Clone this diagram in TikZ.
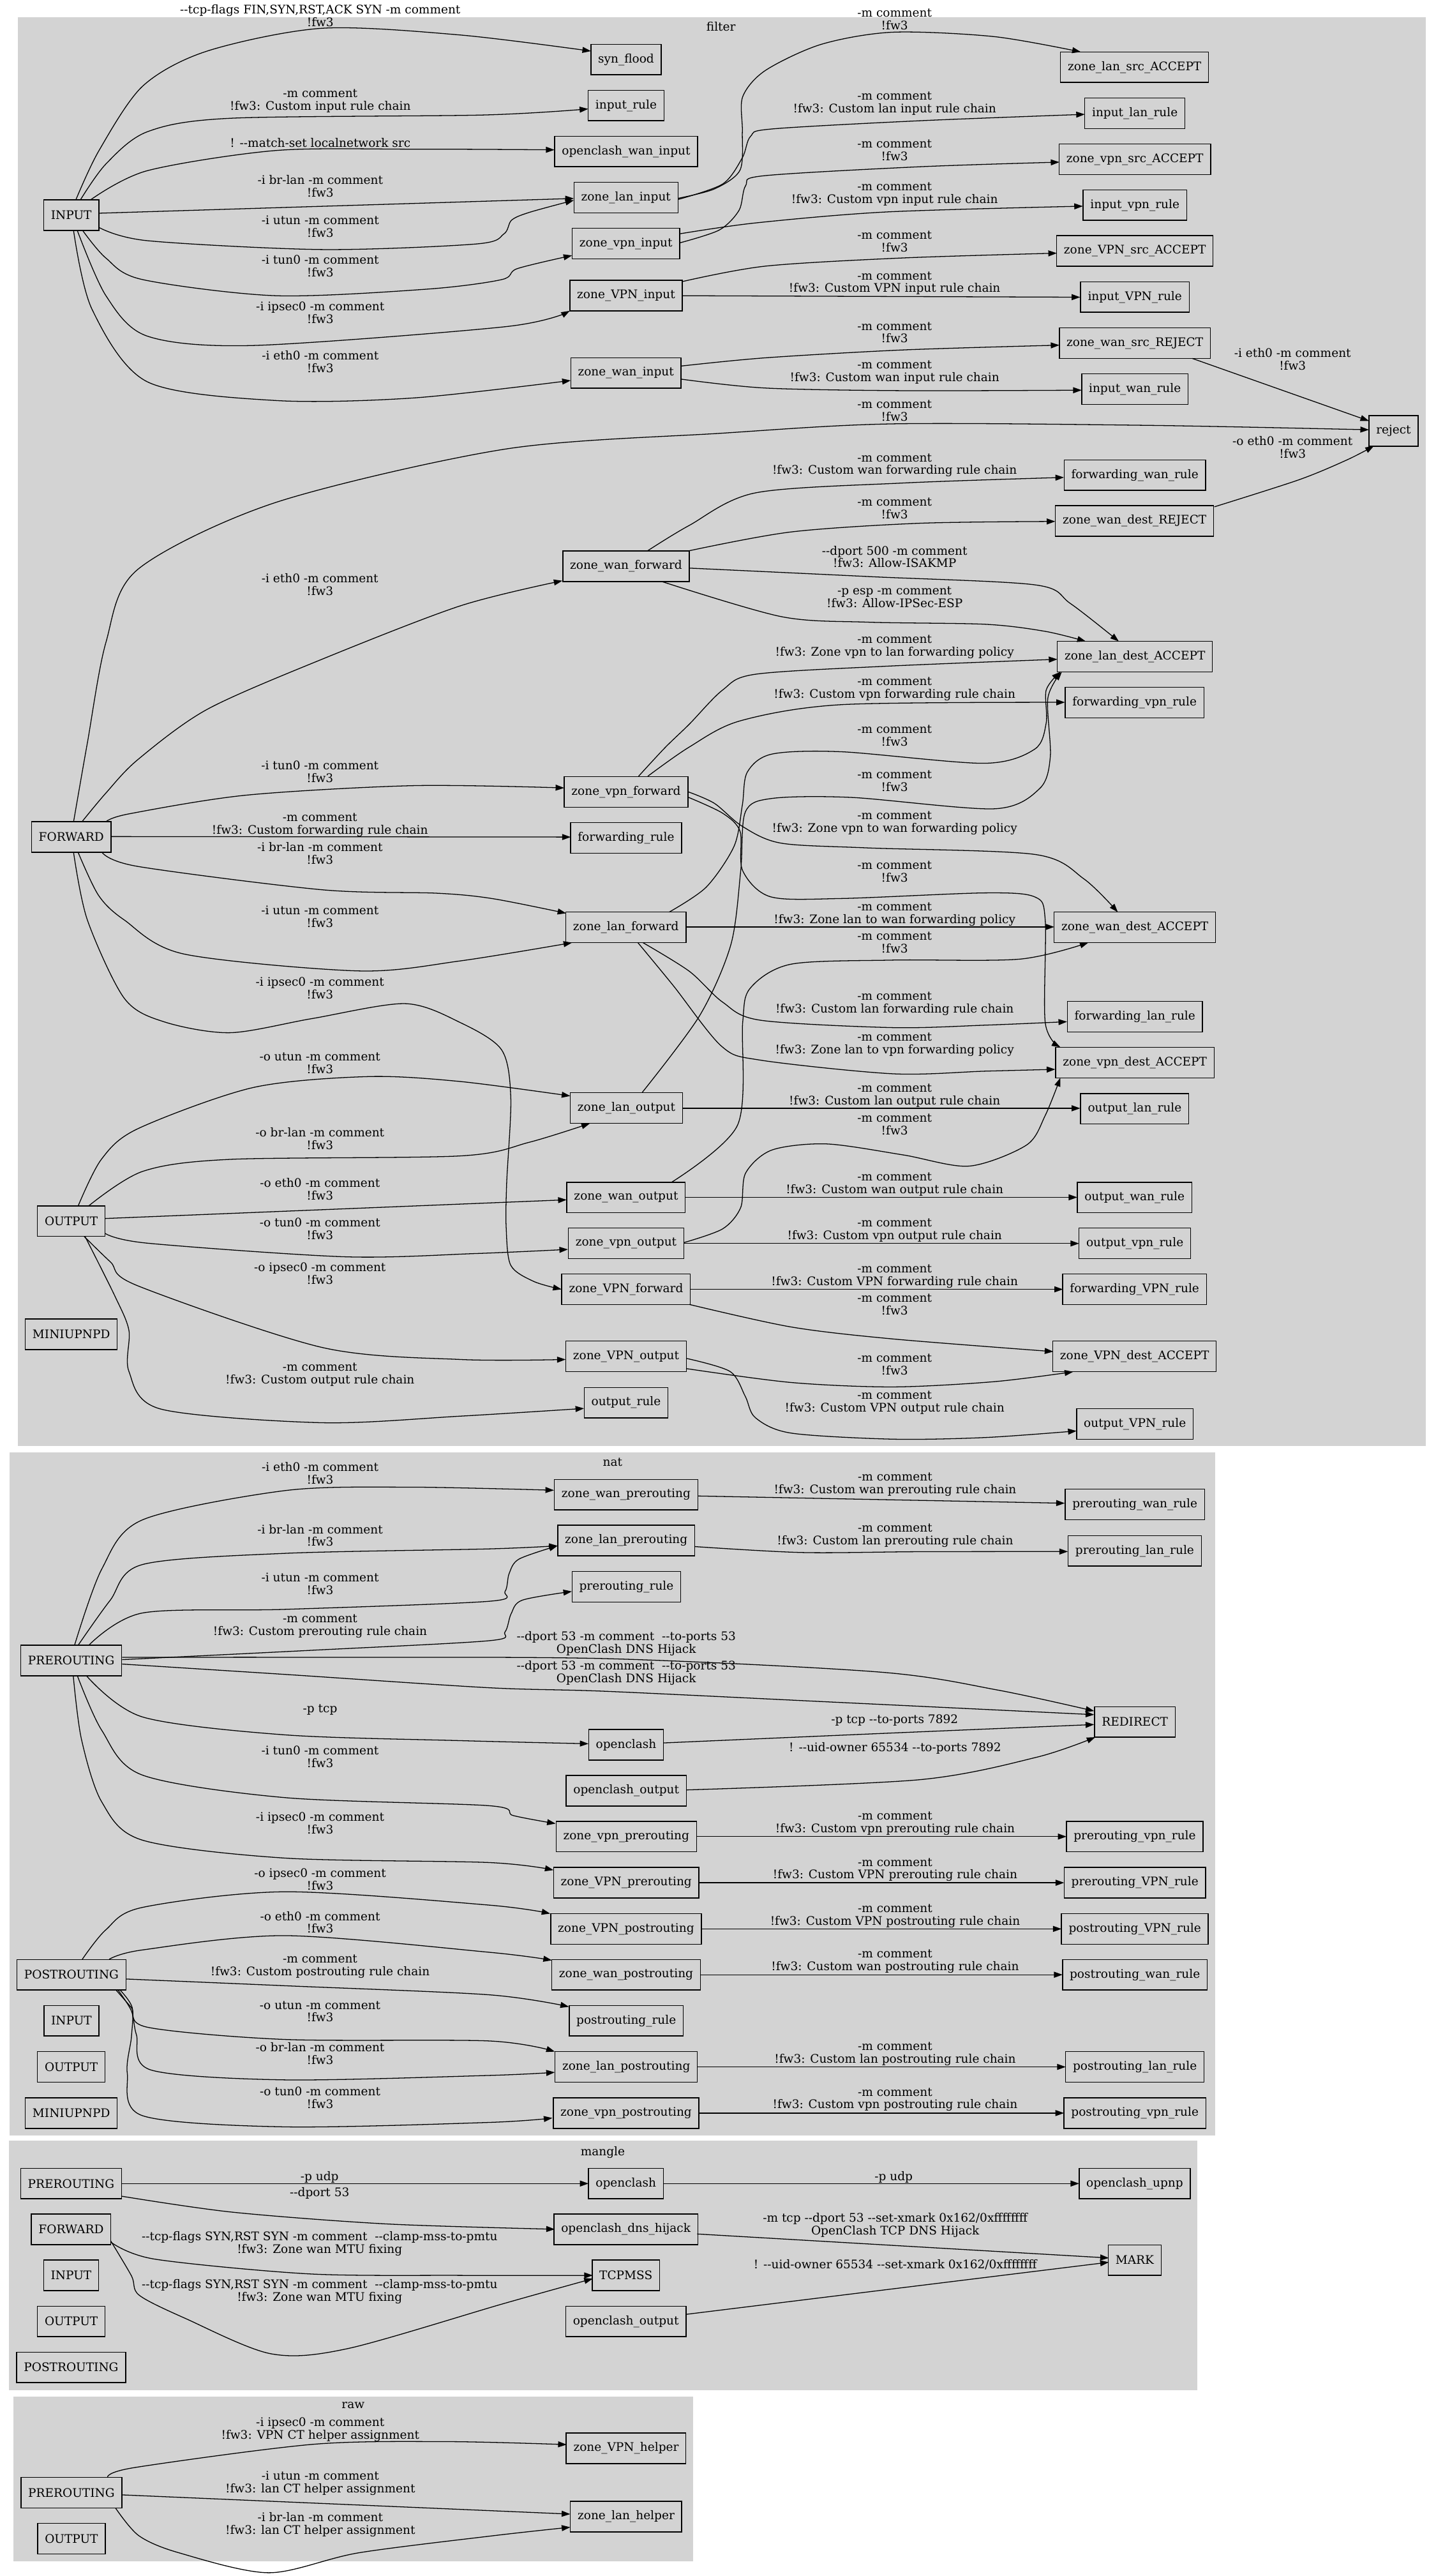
\documentclass[tikz,border=0pt]{standalone}
\usepackage{fontspec}
\newfontfamily\gvfont{DejaVu Serif}
\usetikzlibrary{arrows.meta}
\definecolor{clgray}{HTML}{D3D3D3}
\newcommand\gv{\gvfont\fontsize{7.2}{7.75}\selectfont}
\begin{document}
\begin{tikzpicture}[x=1pt,y=-1pt,
  box/.style={draw=black,line width=0.55pt,rectangle,minimum height=18.6pt,minimum width=27.8pt,inner xsep=4.4pt,inner ysep=0pt,outer sep=0pt,font=\gv},
  lbl/.style={font=\gv,align=center,inner sep=0pt},
  e/.style={draw=black,line width=0.5pt,-{Triangle[length=5.2pt,width=3.6pt]}},
  cl/.style={fill=clgray,draw=none}]
\useasboundingbox (0,0) rectangle (874,1568);
\fill[white] (0,0) rectangle (874,1568);
% clusters
\path[cl] (11,10.6) rectangle (868,880);
\path[cl] (6,884) rectangle (740,1300);
\path[cl] (5.6,1303) rectangle (729,1455);
\path[cl] (8.2,1458.7) rectangle (422,1559);
\node[lbl] (tfilter) at (439,16.3) {filter};
\node[lbl] (tnat) at (373,890) {nat};
\node[lbl] (tmangle) at (367,1310) {mangle};
\node[lbl] (traw) at (215,1464) {raw};
% ---------------- filter nodes
\node[box] (INPUT) at (43.4,131) {INPUT};
\node[box] (syn_flood) at (381.2,36.2) {syn\_flood};
\node[box] (input_rule) at (381.2,64.2) {input\_rule};
\node[box] (openclash_wan_input) at (381.2,92.2) {openclash\_wan\_input};
\node[box] (zone_lan_input) at (381.1,120.2) {zone\_lan\_input};
\node[box] (zone_vpn_input) at (381.1,148.2) {zone\_vpn\_input};
\node[box] (zone_VPN_input) at (381.2,179.9) {zone\_VPN\_input};
\node[box] (zone_wan_input) at (381.1,227) {zone\_wan\_input};
\node[box] (zone_lan_src_ACCEPT) at (690.8,40.9) {zone\_lan\_src\_ACCEPT};
\node[box] (input_lan_rule) at (691,68.9) {input\_lan\_rule};
\node[box] (zone_vpn_src_ACCEPT) at (691,97) {zone\_vpn\_src\_ACCEPT};
\node[box] (input_vpn_rule) at (691,124.8) {input\_vpn\_rule};
\node[box] (zone_VPN_src_ACCEPT) at (691,152.7) {zone\_VPN\_src\_ACCEPT};
\node[box] (input_VPN_rule) at (691,180.8) {input\_VPN\_rule};
\node[box] (zone_wan_src_REJECT) at (691,208.8) {zone\_wan\_src\_REJECT};
\node[box] (input_wan_rule) at (691,236.8) {input\_wan\_rule};
\node[box] (reject) at (848.5,262.3) {reject};
\node[box] (forwarding_wan_rule) at (691,289.2) {forwarding\_wan\_rule};
\node[box] (zone_wan_dest_REJECT) at (690.8,317.1) {zone\_wan\_dest\_REJECT};
\node[box] (zone_wan_forward) at (381.2,344.7) {zone\_wan\_forward};
\node[box] (zone_lan_dest_ACCEPT) at (691,399.7) {zone\_lan\_dest\_ACCEPT};
\node[box] (forwarding_vpn_rule) at (690.8,427.6) {forwarding\_vpn\_rule};
\node[box] (zone_vpn_forward) at (381.2,482) {zone\_vpn\_forward};
\node[box] (FORWARD) at (43.4,509.5) {FORWARD};
\node[box] (forwarding_rule) at (381.2,510) {forwarding\_rule};
\node[box] (zone_lan_forward) at (381.1,564.4) {zone\_lan\_forward};
\node[box] (zone_wan_dest_ACCEPT) at (691,564.4) {zone\_wan\_dest\_ACCEPT};
\node[box] (forwarding_lan_rule) at (691,618.9) {forwarding\_lan\_rule};
\node[box] (zone_vpn_dest_ACCEPT) at (691,646.8) {zone\_vpn\_dest\_ACCEPT};
\node[box] (zone_lan_output) at (381.4,674.4) {zone\_lan\_output};
\node[box] (output_lan_rule) at (690.9,674.9) {output\_lan\_rule};
\node[box] (zone_wan_output) at (381.2,728.9) {zone\_wan\_output};
\node[box] (output_wan_rule) at (690.8,728.9) {output\_wan\_rule};
\node[box] (OUTPUT) at (43.4,743.3) {OUTPUT};
\node[box] (zone_vpn_output) at (381.2,756.8) {zone\_vpn\_output};
\node[box] (output_vpn_rule) at (691,756.8) {output\_vpn\_rule};
\node[box] (zone_VPN_forward) at (381.2,784.7) {zone\_VPN\_forward};
\node[box] (forwarding_VPN_rule) at (690.8,784.7) {forwarding\_VPN\_rule};
\node[box] (MINIUPNPD) at (43.4,812.2) {MINIUPNPD};
\node[box] (zone_VPN_output) at (381.2,825.6) {zone\_VPN\_output};
\node[box] (zone_VPN_dest_ACCEPT) at (690.8,825.6) {zone\_VPN\_dest\_ACCEPT};
\node[box] (output_rule) at (381.2,853.8) {output\_rule};
\node[box] (output_VPN_rule) at (691,866.7) {output\_VPN\_rule};
% ---------------- filter edges
\draw[e] plot[smooth] coordinates {([shift={(2.8,-9.4)}]INPUT.center) (60.3,91.6) (86.9,52.4) (126.1,31.1) (196.2,17.2) (280.2,21.3) ([shift={(-21.4,-5.1)}]syn_flood.center)};
\draw[e] plot[smooth] coordinates {([shift={(5.6,-9.4)}]INPUT.center) (64.5,99.8) (89.7,80.2) (140.1,72) (294.2,70) ([shift={(-23.1,2.1)}]input_rule.center)};
\draw[e] plot[smooth] coordinates {([shift={(11.8,-9.4)}]INPUT.center) (89.7,103.9) (168.1,91.6) (252.2,90.8) ([shift={(-43.6,-1)}]openclash_wan_input.center)};
\draw[e] ([shift={(16.6,-1.2)}]INPUT.center) -- ([shift={(-31.7,0.6)}]zone_lan_input.center);
\draw[e] plot[smooth] coordinates {([shift={(16.6,7.3)}]INPUT.center) (89.7,146.5) (196.2,151.9) (290,148.5) (306.8,142.4) (311.5,134) (322.2,129.3) ([shift={(-31.7,1.7)}]zone_lan_input.center)};
\draw[e] plot[smooth] coordinates {([shift={(7,9.4)}]INPUT.center) (64.5,157.1) (86.9,170.2) (168.1,180) (260,176) (305.4,170.2) (315,163.5) ([shift={(-32.8,7.3)}]zone_vpn_input.center)};
\draw[e] plot[smooth] coordinates {([shift={(3.7,9.4)}]INPUT.center) (64.5,180) (89.7,204.6) (154.1,210.3) (308.2,198.8) ([shift={(-34.3,9.3)}]zone_VPN_input.center)};
\draw[e] plot[smooth] coordinates {([shift={(1.4,9.4)}]INPUT.center) (56,188.2) (89.7,232.4) (168.1,243.8) (252.2,242.2) ([shift={(-33.6,4.6)}]zone_wan_input.center)};
\draw[e] plot[smooth] coordinates {([shift={(31.8,0.5)}]zone_lan_input.center) (435,115) (450.6,103.5) (452,80) (452.2,58.9) (466,42.9) (500,27) (543.6,19.6) (605.4,22.3) ([shift={(-32.8,-9.3)}]zone_lan_src_ACCEPT.center)};
\draw[e] plot[smooth] coordinates {([shift={(31.8,1.2)}]zone_lan_input.center) (440,112) (452,96) (457,83) (470,78.5) (560,73.5) ([shift={(-30.5,0.7)}]input_lan_rule.center)};
\draw[e] plot[smooth] coordinates {([shift={(32.9,-0.4)}]zone_vpn_input.center) (438,140) (450,128) (454,113) (465,107) (560,101.5) ([shift={(-46,1.7)}]zone_vpn_src_ACCEPT.center)};
\draw[e] plot[smooth] coordinates {([shift={(32.9,-5.9)}]zone_vpn_input.center) (460,135.7) (540,129) ([shift={(-31.7,0.7)}]input_vpn_rule.center)};
\draw[e] plot[smooth] coordinates {([shift={(34.2,-8.5)}]zone_VPN_input.center) (466,162) (550,157) ([shift={(-47.5,1.4)}]zone_VPN_src_ACCEPT.center)};
\draw[e] ([shift={(34.2,0.1)}]zone_VPN_input.center) -- ([shift={(-33.3,0.1)}]input_VPN_rule.center);
\draw[e] plot[smooth] coordinates {([shift={(33.7,-4.2)}]zone_wan_input.center) (466,217.8) (550,213) ([shift={(-46,1.3)}]zone_wan_src_REJECT.center)};
\draw[e] plot[smooth] coordinates {([shift={(33.7,3.8)}]zone_wan_input.center) (466,236.2) (550,237.8) ([shift={(-32.4,0.7)}]input_wan_rule.center)};
\draw[e] ([shift={(35,9.4)}]zone_wan_src_REJECT.center) -- ([shift={(-15,-6.1)}]reject.center);
\draw[e] plot[smooth] coordinates {([shift={(1.4,-9.3)}]FORWARD.center) (53.2,452.2) (64.5,391) (84,346.5) (168,305.8) (308,273.3) (439.4,263.7) (543.6,258) (698.3,258.9) ([shift={(-15,-0.7)}]reject.center)};
\draw[e] plot[smooth] coordinates {([shift={(48.6,-8.6)}]zone_wan_dest_REJECT.center) (791,292) (820,280) ([shift={(-12,9.2)}]reject.center)};
\draw[e] plot[smooth] coordinates {([shift={(13.2,-9.5)}]zone_wan_forward.center) (419.7,319.8) (460,300) (550,294) ([shift={(-43.2,1.4)}]forwarding_wan_rule.center)};
\draw[e] plot[smooth] coordinates {([shift={(38.6,-9.5)}]zone_wan_forward.center) (481.6,323.8) (560,318.5) ([shift={(-48.3,0.3)}]zone_wan_dest_REJECT.center)};
\draw[e] plot[smooth] coordinates {([shift={(38.6,1.1)}]zone_wan_forward.center) (530,351) (630.2,356) (651.8,367.4) ([shift={(-9.8,-9.3)}]zone_lan_dest_ACCEPT.center)};
\draw[e] plot[smooth] coordinates {([shift={(21.5,9.2)}]zone_wan_forward.center) (475.5,375.3) (528,378.7) (600,380) (636.4,384.3) ([shift={(-29.9,-9.3)}]zone_lan_dest_ACCEPT.center)};
\draw[e] plot[smooth] coordinates {([shift={(6.5,-9.3)}]FORWARD.center) (64.5,482.7) (84,462.3) (126.1,431.8) (196,401.3) (280.2,368.8) ([shift={(-38.8,8.8)}]zone_wan_forward.center)};
\draw[e] plot[smooth] coordinates {([shift={(7.6,-9.5)}]zone_vpn_forward.center) (405,455) (419.7,440.8) (440,420) (460,410.4) (540,405.5) ([shift={(-47.2,1.6)}]zone_lan_dest_ACCEPT.center)};
\draw[e] plot[smooth] coordinates {([shift={(13.2,-9.5)}]zone_vpn_forward.center) (419.7,454.7) (450.6,438.8) (512.6,428.9) ([shift={(-42.4,-0.1)}]forwarding_vpn_rule.center)};
\draw[e] plot[smooth] coordinates {([shift={(26.3,-9.2)}]zone_lan_forward.center) (430,540) (447,515) (452,490) (455,470) (470,459) (512.6,457.6) (599.2,464.6) (630,456) (637,440) (637,420) ([shift={(-45.4,9.3)}]zone_lan_dest_ACCEPT.center)};
\draw[e] plot[smooth] coordinates {([shift={(9.6,-9.4)}]zone_lan_output.center) (426,618.2) (445,575) (451,530) (453.8,494.3) (470,486) (518.7,485.4) (605.4,492.3) (633,480) (639.5,460.6) (638,425) ([shift={(-44.5,9.3)}]zone_lan_dest_ACCEPT.center)};
\draw[e] plot[smooth] coordinates {([shift={(37.9,0)}]zone_vpn_forward.center) (435,489) (452,503) (475.5,513.2) (528,516.1) (630.2,520.1) (660,535) ([shift={(-10.4,-9.2)}]zone_wan_dest_ACCEPT.center)};
\draw[e] plot[smooth] coordinates {([shift={(37.9,3.3)}]zone_vpn_forward.center) (440,495) (450.6,506) (452.2,530) (469.3,545.9) (512.6,546.9) (600,543.5) (630.2,546) (636.4,560) (636.4,622.4) ([shift={(-45.4,-9.4)}]zone_vpn_dest_ACCEPT.center)};
\draw[e] ([shift={(36.4,-0.2)}]zone_lan_forward.center) -- ([shift={(-49.1,-0.2)}]zone_wan_dest_ACCEPT.center);
\draw[e] plot[smooth] coordinates {([shift={(27.9,-9.4)}]zone_wan_output.center) (449.1,684.8) (452.2,622.4) (456.8,601.5) (481.6,586.9) (543.6,584.4) (621,583.8) ([shift={(-28.3,9.3)}]zone_wan_dest_ACCEPT.center)};
\draw[e] plot[smooth] coordinates {([shift={(10.4,9.4)}]zone_lan_forward.center) (419.7,591.2) (440,610) (463,621) (543.6,625.5) (600,624) ([shift={(-41.3,3)}]forwarding_lan_rule.center)};
\draw[e] plot[smooth] coordinates {([shift={(7.3,9.4)}]zone_lan_forward.center) (410,600) (439.4,636.9) (463,645.3) (543.6,653.6) (600,652) ([shift={(-48.5,4.1)}]zone_vpn_dest_ACCEPT.center)};
\draw[e] ([shift={(34.2,0.2)}]zone_lan_output.center) -- ([shift={(-33.2,-0.3)}]output_lan_rule.center);
\draw[e] plot[smooth] coordinates {([shift={(35.4,-0.5)}]zone_vpn_output.center) (440,748) (451,735) (454,714) (470,700) (503.3,696.3) (550,703) (590,709.8) (625,697) (636.4,679) ([shift={(-45.4,9.3)}]zone_vpn_dest_ACCEPT.center)};
\draw[e] ([shift={(36.3,-0.1)}]zone_wan_output.center) -- ([shift={(-34.9,-0.1)}]output_wan_rule.center);
\draw[e] ([shift={(35.5,0.1)}]zone_vpn_output.center) -- ([shift={(-34,0.1)}]output_vpn_rule.center);
\draw[e] ([shift={(39.1,0.1)}]zone_VPN_forward.center) -- ([shift={(-43.6,0.1)}]forwarding_VPN_rule.center);
\draw[e] plot[smooth] coordinates {([shift={(38.5,9.3)}]zone_VPN_forward.center) (481.6,807.7) (543.6,815) ([shift={(-49.5,-2.9)}]zone_VPN_dest_ACCEPT.center)};
\draw[e] plot[smooth] coordinates {([shift={(37,7.5)}]zone_VPN_output.center) (481.6,841.5) (543.6,844.2) (605.4,841) ([shift={(-37.4,9.4)}]zone_VPN_dest_ACCEPT.center)};
\draw[e] plot[smooth] coordinates {([shift={(37,1.3)}]zone_VPN_output.center) (444.5,834.8) (453.8,850) (460,863) (481.6,872.3) (543.6,876) (600,875) ([shift={(-35.5,4.3)}]output_VPN_rule.center)};
\draw[e] plot[smooth] coordinates {([shift={(21.1,-9.3)}]FORWARD.center) (78.5,495.4) (150,484) (252.2,478.2) ([shift={(-37.7,-2.4)}]zone_vpn_forward.center)};
\draw[e] ([shift={(24.1,-0.3)}]FORWARD.center) -- ([shift={(-33.7,-0.5)}]forwarding_rule.center);
\draw[e] plot[smooth] coordinates {([shift={(18.8,9.4)}]FORWARD.center) (84,527.4) (196.2,541.6) (266.2,543.7) (300,547) ([shift={(-36.4,-8.5)}]zone_lan_forward.center)};
\draw[e] plot[smooth] coordinates {([shift={(4.2,9.4)}]FORWARD.center) (60,545) (75.7,560) (112,580.7) (218.6,591) (280.2,584.9) ([shift={(-32.8,9.4)}]zone_lan_forward.center)};
\draw[e] plot[smooth] coordinates {([shift={(1.4,9.4)}]FORWARD.center) (53.2,560) (75.7,607.7) (100,622) (140.1,628.6) (190,620) (246.6,610.9) (280.2,622.4) (305.4,639) (311,668.2) (308.5,720) (308.2,747.3) (311,770.2) (325,780) ([shift={(-39.3,0.1)}]zone_VPN_forward.center)};
\draw[e] plot[smooth] coordinates {([shift={(4.2,-9.3)}]OUTPUT.center) (61.7,705.7) (84,687) (154,662) (224.2,655.3) (280.2,658.3) ([shift={(-34.2,-7.3)}]zone_lan_output.center)};
\draw[e] plot[smooth] coordinates {([shift={(10.6,-9.3)}]OUTPUT.center) (86.9,713) (140,705.7) (280.2,703.6) (322.2,695.3) ([shift={(-22.2,9.4)}]zone_lan_output.center)};
\draw[e] ([shift={(20.5,-1.6)}]OUTPUT.center) -- ([shift={(-36.2,1.4)}]zone_wan_output.center);
\draw[e] plot[smooth] coordinates {([shift={(20.5,7.4)}]OUTPUT.center) (89.7,756.7) (210.2,765) (290,763) ([shift={(-35.4,3.7)}]zone_vpn_output.center)};
\draw[e] plot[smooth] coordinates {([shift={(7.9,9.4)}]OUTPUT.center) (67.3,768.2) (84,782.7) (196.2,820.2) (280.2,827.5) ([shift={(-36.8,1.9)}]zone_VPN_output.center)};
\draw[e] plot[smooth] coordinates {([shift={(8.4,9.4)}]OUTPUT.center) (70,789) (78.5,809.8) (78.5,834.8) (98,857.7) (196.2,866) (280.2,862) ([shift={(-25.6,3.5)}]output_rule.center)};
% filter labels
\node[lbl] (f1) at (195,9.4) {--tcp-flags FIN,SYN,RST,ACK SYN -m comment\\!fw3};
\node[lbl] (f2) at (195,61.5) {-m comment\\!fw3: Custom input rule chain};
\node[lbl] (f3) at (195,87) {! --match-set localnetwork src};
\node[lbl] (f4) at (195,113.4) {-i br-lan -m comment\\!fw3};
\node[lbl] (f5) at (195,138) {-i utun -m comment\\!fw3};
\node[lbl] (f6) at (195,161.8) {-i tun0 -m comment\\!fw3};
\node[lbl] (f7) at (195,190.4) {-i ipsec0 -m comment\\!fw3};
\node[lbl] (f8) at (195,220) {-i eth0 -m comment\\!fw3};
\node[lbl] (f9) at (194.8,355.8) {-i eth0 -m comment\\!fw3};
\node[lbl] (f10) at (194.8,469.7) {-i tun0 -m comment\\!fw3};
\node[lbl] (f11) at (194.8,502) {-m comment\\!fw3: Custom forwarding rule chain};
\node[lbl] (f12) at (194.8,519.3) {-i br-lan -m comment\\!fw3};
\node[lbl] (f13) at (194.8,557.9) {-i utun -m comment\\!fw3};
\node[lbl] (f14) at (194.8,601.5) {-i ipsec0 -m comment\\!fw3};
\node[lbl] (f15) at (194.8,647) {-o utun -m comment\\!fw3};
\node[lbl] (f16) at (194.8,693.2) {-o br-lan -m comment\\!fw3};
\node[lbl] (f17) at (194.8,723.8) {-o eth0 -m comment\\!fw3};
\node[lbl] (f18) at (194.8,747.8) {-o tun0 -m comment\\!fw3};
\node[lbl] (f19) at (194.8,775.3) {-o ipsec0 -m comment\\!fw3};
\node[lbl] (f20) at (194.8,836.8) {-m comment\\!fw3: Custom output rule chain};
\node[lbl] (g1) at (544.7,11.7) {-m comment\\!fw3};
\node[lbl] (g2) at (544.7,63) {-m comment\\!fw3: Custom lan input rule chain};
\node[lbl] (g3) at (544.7,91.4) {-m comment\\!fw3};
\node[lbl] (g4) at (544.7,118.3) {-m comment\\!fw3: Custom vpn input rule chain};
\node[lbl] (g5) at (544.7,147) {-m comment\\!fw3};
\node[lbl] (g6) at (544.7,172.4) {-m comment\\!fw3: Custom VPN input rule chain};
\node[lbl] (g7) at (544.7,202.4) {-m comment\\!fw3};
\node[lbl] (g8) at (544.7,226.5) {-m comment\\!fw3: Custom wan input rule chain};
\node[lbl] (g9) at (544.7,250) {-m comment\\!fw3};
\node[lbl] (g10) at (544.7,283.2) {-m comment\\!fw3: Custom wan forwarding rule chain};
\node[lbl] (g11) at (544.7,309.5) {-m comment\\!fw3};
\node[lbl] (g12) at (544.7,338.9) {--dport 500 -m comment\\!fw3: Allow-ISAKMP};
\node[lbl] (g13) at (544.7,363.5) {-p esp -m comment\\!fw3: Allow-IPSec-ESP};
\node[lbl] (g14) at (544.7,393.6) {-m comment\\!fw3: Zone vpn to lan forwarding policy};
\node[lbl] (g15) at (544.7,419.5) {-m comment\\!fw3: Custom vpn forwarding rule chain};
\node[lbl] (g16) at (544.7,447.9) {-m comment\\!fw3};
\node[lbl] (g17) at (544.7,475.5) {-m comment\\!fw3};
\node[lbl] (g18) at (544.7,500.9) {-m comment\\!fw3: Zone vpn to wan forwarding policy};
\node[lbl] (g19) at (544.7,530.5) {-m comment\\!fw3};
\node[lbl] (g20) at (544.7,556.5) {-m comment\\!fw3: Zone lan to wan forwarding policy};
\node[lbl] (g21) at (544.7,573.8) {-m comment\\!fw3};
\node[lbl] (g22) at (544.7,610.8) {-m comment\\!fw3: Custom lan forwarding rule chain};
\node[lbl] (g23) at (544.7,635.8) {-m comment\\!fw3: Zone lan to vpn forwarding policy};
\node[lbl] (g24) at (544.7,666.8) {-m comment\\!fw3: Custom lan output rule chain};
\node[lbl] (g25) at (544.7,684.3) {-m comment\\!fw3};
\node[lbl] (g26) at (544.7,720.8) {-m comment\\!fw3: Custom wan output rule chain};
\node[lbl] (g27) at (544.7,748.8) {-m comment\\!fw3: Custom vpn output rule chain};
\node[lbl] (g28) at (544.7,776.8) {-m comment\\!fw3: Custom VPN forwarding rule chain};
\node[lbl] (g29) at (544.7,794.2) {-m comment\\!fw3};
\node[lbl] (g30) at (544.7,830.4) {-m comment\\!fw3};
\node[lbl] (g31) at (544.7,853.9) {-m comment\\!fw3: Custom VPN output rule chain};
\node[lbl] (g32) at (787,218.7) {-i eth0 -m comment\\!fw3};
\node[lbl] (g33) at (787,272.1) {-o eth0 -m comment\\!fw3};
% ---------------- nat nodes
\node[box] (nPRE) at (43.4,1010.7) {PREROUTING};
\node[box] (nPOST) at (43.5,1202) {POSTROUTING};
\node[box] (nINPUT) at (43.5,1230) {INPUT};
\node[box] (nOUTPUT) at (43.4,1258.1) {OUTPUT};
\node[box] (nMINI) at (43.4,1286.2) {MINIUPNPD};
\node[box] (zone_wan_prerouting) at (381.2,909.8) {zone\_wan\_prerouting};
\node[box] (zone_lan_prerouting) at (381.3,937.7) {zone\_lan\_prerouting};
\node[box] (prerouting_rule) at (381.4,965.8) {prerouting\_rule};
\node[box] (nopenclash) at (381.2,1062) {openclash};
\node[box] (nopenclash_output) at (381.3,1090) {openclash\_output};
\node[box] (zone_vpn_prerouting) at (381.3,1117.9) {zone\_vpn\_prerouting};
\node[box] (zone_VPN_prerouting) at (381.3,1146) {zone\_VPN\_prerouting};
\node[box] (zone_VPN_postrouting) at (381.2,1174.1) {zone\_VPN\_postrouting};
\node[box] (zone_wan_postrouting) at (381.2,1202) {zone\_wan\_postrouting};
\node[box] (postrouting_rule) at (381.3,1230) {postrouting\_rule};
\node[box] (zone_lan_postrouting) at (381.3,1258.1) {zone\_lan\_postrouting};
\node[box] (zone_vpn_postrouting) at (381.2,1286.2) {zone\_vpn\_postrouting};
\node[box] (prerouting_wan_rule) at (691,915.8) {prerouting\_wan\_rule};
\node[box] (prerouting_lan_rule) at (690.9,944) {prerouting\_lan\_rule};
\node[box] (REDIRECT) at (691,1048.1) {REDIRECT};
\node[box] (prerouting_vpn_rule) at (690.9,1117.9) {prerouting\_vpn\_rule};
\node[box] (prerouting_VPN_rule) at (691,1146) {prerouting\_VPN\_rule};
\node[box] (postrouting_VPN_rule) at (691,1174.1) {postrouting\_VPN\_rule};
\node[box] (postrouting_wan_rule) at (691,1202) {postrouting\_wan\_rule};
\node[box] (postrouting_lan_rule) at (691,1258.1) {postrouting\_lan\_rule};
\node[box] (postrouting_vpn_rule) at (691,1286.2) {postrouting\_vpn\_rule};
% nat edges
\draw[e] plot[smooth] coordinates {([shift={(2,-9.3)}]nPRE.center) (62,955) (86.8,925.1) (173.6,907.3) (248,905.2) ([shift={(-43.9,-2.7)}]zone_wan_prerouting.center)};
\draw[e] plot[smooth] coordinates {([shift={(4.2,-9.3)}]nPRE.center) (67,974.2) (86.8,952.3) (173.6,945.5) (297.6,942.8) ([shift={(-41.8,3.2)}]zone_lan_prerouting.center)};
\draw[e] plot[smooth] coordinates {([shift={(10.7,-9.3)}]nPRE.center) (86.8,981.8) (173.6,979.6) (297.6,974.7) (307.5,968.7) (310,957.8) (316,949) ([shift={(-41.8,3.2)}]zone_lan_prerouting.center)};
\draw[e] plot[smooth] coordinates {([shift={(31,-0.5)}]nPRE.center) (190,1004.5) (297.6,998.7) (307.5,993.3) (311.2,982.3) (318,974) ([shift={(-33.2,2.9)}]prerouting_rule.center)};
\draw[e] plot[smooth] coordinates {([shift={(31,-1.9)}]nPRE.center) (200,1008.8) (369.4,1009.6) (536,1017.8) (607.4,1028.7) ([shift={(-24.8,-6.6)}]REDIRECT.center)};
\draw[e] plot[smooth] coordinates {([shift={(31,2.2)}]nPRE.center) (173.6,1019.2) (297.6,1027.3) (369.4,1029.5) (512.2,1036.3) ([shift={(-24.8,-4.4)}]REDIRECT.center)};
\draw[e] plot[smooth] coordinates {([shift={(9.2,9.3)}]nPRE.center) (86.8,1045.1) (173.6,1056) (280,1059.5) ([shift={(-22.9,-0.6)}]nopenclash.center)};
\draw[e] plot[smooth] coordinates {([shift={(3.7,9.3)}]nPRE.center) (62,1053.3) (86.8,1080.5) (173.6,1094.2) (297.6,1099.1) (312.5,1105.1) ([shift={(-43,-7.9)}]zone_vpn_prerouting.center)};
\draw[e] plot[smooth] coordinates {([shift={(1.2,9.3)}]nPRE.center) (49.6,1058.7) (62,1096.9) (86.8,1120.1) (173.6,1131) (297.6,1133.7) ([shift={(-44.3,-7.7)}]zone_VPN_prerouting.center)};
\draw[e] plot[smooth] coordinates {([shift={(22.9,-1.1)}]nopenclash.center) (540,1055) ([shift={(-24.8,1.6)}]REDIRECT.center)};
\draw[e] plot[smooth] coordinates {([shift={(36.9,-0.5)}]nopenclash_output.center) (559.8,1083.3) (631.2,1069.6) ([shift={(-24.1,9.3)}]REDIRECT.center)};
\draw[e] ([shift={(43.9,0.8)}]zone_wan_prerouting.center) -- ([shift={(-42.7,-0.8)}]prerouting_wan_rule.center);
\draw[e] plot[smooth] coordinates {([shift={(41.9,3.7)}]zone_lan_prerouting.center) (488.4,945) (560,944.5) ([shift={(-40.7,0.4)}]prerouting_lan_rule.center)};
\draw[e] (zone_vpn_prerouting.east) -- (prerouting_vpn_rule.west);
\draw[e] (zone_VPN_prerouting.east) -- (prerouting_VPN_rule.west);
\draw[e] (zone_VPN_postrouting.east) -- (postrouting_VPN_rule.west);
\draw[e] (zone_wan_postrouting.east) -- (postrouting_wan_rule.west);
\draw[e] (zone_lan_postrouting.east) -- (postrouting_lan_rule.west);
\draw[e] (zone_vpn_postrouting.east) -- (postrouting_vpn_rule.west);
\draw[e] plot[smooth] coordinates {([shift={(6.6,-9.4)}]nPOST.center) (64.5,1174.6) (86.8,1161) (173.6,1151.5) (297.6,1159.6) ([shift={(-46.2,-9.3)}]zone_VPN_postrouting.center)};
\draw[e] plot[smooth] coordinates {([shift={(23,-9.4)}]nPOST.center) (86.8,1186.9) (173.6,1178.2) (297.6,1188.3) ([shift={(-45.2,-8.8)}]zone_wan_postrouting.center)};
\draw[e] plot[smooth] coordinates {([shift={(33.1,2.6)}]nPOST.center) (173.6,1208.7) (297.6,1214.2) ([shift={(-34.9,-8.5)}]postrouting_rule.center)};
\draw[e] plot[smooth] coordinates {([shift={(27.2,9.4)}]nPOST.center) (80,1222) (90,1234) (173.6,1241.4) (297.6,1242.3) ([shift={(-43.5,-9.3)}]zone_lan_postrouting.center)};
\draw[e] plot[smooth] coordinates {([shift={(28.4,9.4)}]nPOST.center) (80,1224) (83.1,1238.7) (92,1260) (173.6,1266) (297.6,1263.3) ([shift={(-43.5,3.3)}]zone_lan_postrouting.center)};
\draw[e] plot[smooth] coordinates {([shift={(29.7,9.4)}]nPOST.center) (80.5,1222) (80,1240) (77.5,1262) (86.8,1287.8) (173.6,1294.6) (297.6,1291.9) ([shift={(-44.9,3)}]zone_vpn_postrouting.center)};
% nat labels
\node[lbl] (h1) at (194.9,896.7) {-i eth0 -m comment\\!fw3};
\node[lbl] (h2) at (194.9,934.6) {-i br-lan -m comment\\!fw3};
\node[lbl] (h3) at (194.9,964.1) {-i utun -m comment\\!fw3};
\node[lbl] (h4) at (194.9,989.7) {-m comment\\!fw3: Custom prerouting rule chain};
\node[lbl] (h5) at (194.9,1040.7) {-p tcp};
\node[lbl] (h6) at (194.9,1069.5) {-i tun0 -m comment\\!fw3};
\node[lbl] (h7) at (194.9,1109.8) {-i ipsec0 -m comment\\!fw3};
\node[lbl] (h8) at (194.9,1143.8) {-o ipsec0 -m comment\\!fw3};
\node[lbl] (h9) at (194.9,1170.1) {-o eth0 -m comment\\!fw3};
\node[lbl] (h10) at (194.9,1197) {-m comment\\!fw3: Custom postrouting rule chain};
\node[lbl] (h11) at (194.9,1224.4) {-o utun -m comment\\!fw3};
\node[lbl] (h12) at (194.9,1249.9) {-o br-lan -m comment\\!fw3};
\node[lbl] (h13) at (194.9,1276.8) {-o tun0 -m comment\\!fw3};
\node[lbl] (h14) at (381.3,1000.6) {--dport 53 -m comment~ --to-ports 53\\OpenClash DNS Hijack};
\node[lbl] (h15) at (381.3,1018.3) {--dport 53 -m comment~ --to-ports 53\\OpenClash DNS Hijack};
\node[lbl] (k1) at (545,903.5) {-m comment\\!fw3: Custom wan prerouting rule chain};
\node[lbl] (k2) at (545,934.6) {-m comment\\!fw3: Custom lan prerouting rule chain};
\node[lbl] (k3) at (544.7,1047) {-p tcp --to-ports 7892};
\node[lbl] (k4) at (545,1064.2) {! --uid-owner 65534 --to-ports 7892};
\node[lbl] (k5) at (545,1110) {-m comment\\!fw3: Custom vpn prerouting rule chain};
\node[lbl] (k6) at (545,1138.1) {-m comment\\!fw3: Custom VPN prerouting rule chain};
\node[lbl] (k7) at (545,1166.2) {-m comment\\!fw3: Custom VPN postrouting rule chain};
\node[lbl] (k8) at (545,1194) {-m comment\\!fw3: Custom wan postrouting rule chain};
\node[lbl] (k9) at (545,1250.2) {-m comment\\!fw3: Custom lan postrouting rule chain};
\node[lbl] (k10) at (545,1278) {-m comment\\!fw3: Custom vpn postrouting rule chain};
% ---------------- mangle
\node[box] (mPRE) at (43.3,1329.1) {PREROUTING};
\node[box] (mFWD) at (43.3,1357) {FORWARD};
\node[box] (mINPUT) at (43.3,1385) {INPUT};
\node[box] (mOUTPUT) at (43.4,1413) {OUTPUT};
\node[box] (mPOST) at (43.3,1441) {POSTROUTING};
\node[box] (mopenclash) at (381.1,1329.1) {openclash};
\node[box] (openclash_dns_hijack) at (381.1,1357) {openclash\_dns\_hijack};
\node[box] (TCPMSS) at (381.1,1385) {TCPMSS};
\node[box] (mopenclash_output) at (381.1,1413) {openclash\_output};
\node[box] (openclash_upnp) at (690.9,1329.1) {openclash\_upnp};
\node[box] (MARK) at (690.9,1375.7) {MARK};
\draw[e] (mPRE.east) -- (mopenclash.west);
\draw[e] (mopenclash.east) -- (openclash_upnp.west);
\draw[e] plot[smooth] coordinates {([shift={(30.7,7.7)}]mPRE.center) (141.3,1346.5) (235.6,1353.7) ([shift={(-43.3,-0.1)}]openclash_dns_hijack.center)};
\draw[e] ([shift={(43.4,2.8)}]openclash_dns_hijack.center) -- ([shift={(-15.8,-1.3)}]MARK.center);
\draw[e] ([shift={(36.8,-4.3)}]mopenclash_output.center) -- ([shift={(-15.8,1.3)}]MARK.center);
\draw[e] plot[smooth] coordinates {([shift={(24.1,7.7)}]mFWD.center) (94.2,1375.1) (188.4,1384.1) (280,1385) ([shift={(-20.2,0)}]TCPMSS.center)};
\draw[e] plot[smooth] coordinates {([shift={(24.1,7)}]mFWD.center) (80.1,1385.4) (84.8,1397.1) (113.1,1411.3) (164.9,1432.7) (212,1429.5) (306.2,1402.3) ([shift={(-20.2,2)}]TCPMSS.center)};
\node[lbl] (m1) at (194.6,1325.4) {-p udp};
\node[lbl] (m2) at (194.6,1334.9) {--dport 53};
\node[lbl] (m3) at (544.1,1325.4) {-p udp};
\node[lbl] (m4) at (545.1,1354.5) {-m tcp --dport 53 --set-xmark 0x162/0xffffffff\\OpenClash TCP DNS Hijack};
\node[lbl] (m5) at (545.1,1378.3) {! --uid-owner 65534 --set-xmark 0x162/0xffffffff};
\node[lbl] (m6) at (194.6,1365.7) {--tcp-flags SYN,RST SYN -m comment~ --clamp-mss-to-pmtu\\!fw3: Zone wan MTU fixing};
\node[lbl] (m7) at (194.6,1394.8) {--tcp-flags SYN,RST SYN -m comment~ --clamp-mss-to-pmtu\\!fw3: Zone wan MTU fixing};
% ---------------- raw
\node[box] (rPRE) at (43.5,1517.3) {PREROUTING};
\node[box] (rOUTPUT) at (43.5,1545.3) {OUTPUT};
\node[box] (zone_VPN_helper) at (381.2,1490.3) {zone\_VPN\_helper};
\node[box] (zone_lan_helper) at (381.2,1531.8) {zone\_lan\_helper};
\draw[e] plot[smooth] coordinates {([shift={(22,-9.4)}]rPRE.center) (81.8,1502) (190.9,1487.8) (272.8,1486.2) ([shift={(-36.2,-2.3)}]zone_VPN_helper.center)};
\draw[e] ([shift={(30.7,1.3)}]rPRE.center) -- ([shift={(-34,-1.5)}]zone_lan_helper.center);
\draw[e] plot[smooth] coordinates {([shift={(26.9,9.4)}]rPRE.center) (84.6,1543.5) (109.1,1553.9) (163.7,1566) (218.2,1553.9) (300,1543.5) ([shift={(-34,6.5)}]zone_lan_helper.center)};
\node[lbl] (r1) at (195,1478.7) {-i ipsec0 -m comment\\!fw3: VPN CT helper assignment};
\node[lbl] (r2) at (195,1511.4) {-i utun -m comment\\!fw3: lan CT helper assignment};
\node[lbl] (r3) at (195,1536.7) {-i br-lan -m comment\\!fw3: lan CT helper assignment};
\end{tikzpicture}
\end{document}
